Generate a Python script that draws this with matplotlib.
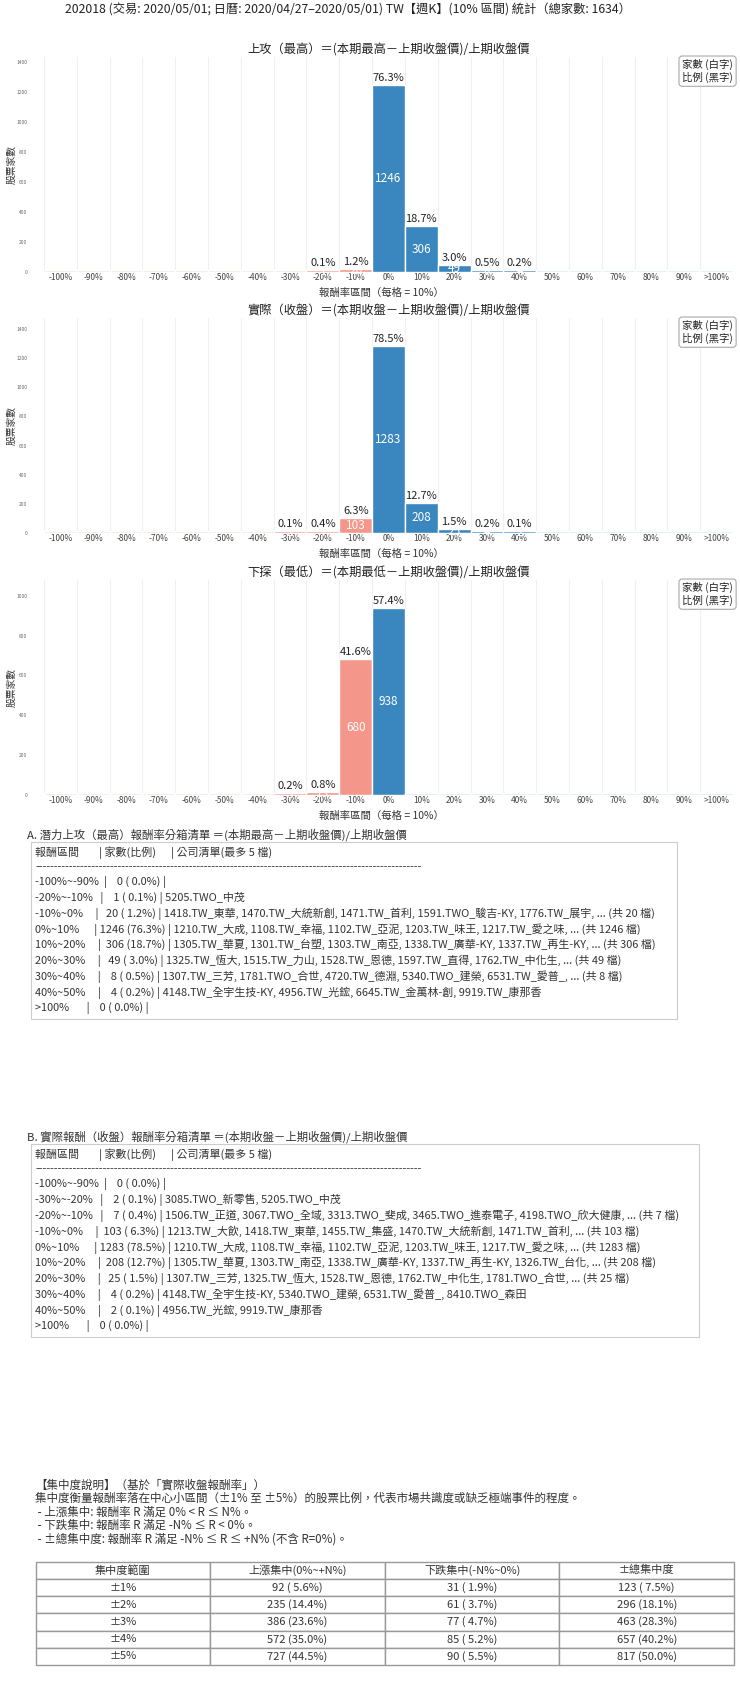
import matplotlib.pyplot as plt
import matplotlib.patches as mpatches
from matplotlib.ticker import MultipleLocator
import numpy as np

plt.rcParams['font.family'] = ['Noto Sans CJK TC', 'DejaVu Sans']

W, H = 740, 1691
TOTAL = 1634

# 分箱 (10% 區間)
bin_labels = ['-100%', '-90%', '-80%', '-70%', '-60%', '-50%', '-40%', '-30%', '-20%', '-10%',
              '0%', '10%', '20%', '30%', '40%', '50%', '60%', '70%', '80%', '90%', '>100%']
bin_ranges = ['-100%~-90%', '-90%~-80%', '-80%~-70%', '-70%~-60%', '-60%~-50%', '-50%~-40%',
              '-40%~-30%', '-30%~-20%', '-20%~-10%', '-10%~0%', '0%~10%', '10%~20%', '20%~30%',
              '30%~40%', '40%~50%', '50%~60%', '60%~70%', '70%~80%', '80%~90%', '90%~100%', '>100%']

counts_high = [0, 0, 0, 0, 0, 0, 0, 0, 1, 20, 1246, 306, 49, 8, 4, 0, 0, 0, 0, 0, 0]
counts_close = [0, 0, 0, 0, 0, 0, 0, 2, 7, 103, 1283, 208, 25, 4, 2, 0, 0, 0, 0, 0, 0]
counts_low = [0, 0, 0, 0, 0, 0, 0, 3, 13, 680, 938, 0, 0, 0, 0, 0, 0, 0, 0, 0, 0]

names_high = {
    '-20%~-10%': '5205.TWO_中茂',
    '-10%~0%': '1418.TW_東華, 1470.TW_大統新創, 1471.TW_首利, 1591.TWO_駿吉-KY, 1776.TW_展宇, ... (共 20 檔)',
    '0%~10%': '1210.TW_大成, 1108.TW_幸福, 1102.TW_亞泥, 1203.TW_味王, 1217.TW_愛之味, ... (共 1246 檔)',
    '10%~20%': '1305.TW_華夏, 1301.TW_台塑, 1303.TW_南亞, 1338.TW_廣華-KY, 1337.TW_再生-KY, ... (共 306 檔)',
    '20%~30%': '1325.TW_恆大, 1515.TW_力山, 1528.TW_恩德, 1597.TW_直得, 1762.TW_中化生, ... (共 49 檔)',
    '30%~40%': '1307.TW_三芳, 1781.TWO_合世, 4720.TW_德淵, 5340.TWO_建榮, 6531.TW_愛普_, ... (共 8 檔)',
    '40%~50%': '4148.TW_全宇生技-KY, 4956.TW_光鋐, 6645.TW_金萬林-創, 9919.TW_康那香',
}
names_close = {
    '-30%~-20%': '3085.TWO_新零售, 5205.TWO_中茂',
    '-20%~-10%': '1506.TW_正道, 3067.TWO_全域, 3313.TWO_斐成, 3465.TWO_進泰電子, 4198.TWO_欣大健康, ... (共 7 檔)',
    '-10%~0%': '1213.TW_大飲, 1418.TW_東華, 1455.TW_集盛, 1470.TW_大統新創, 1471.TW_首利, ... (共 103 檔)',
    '0%~10%': '1210.TW_大成, 1108.TW_幸福, 1102.TW_亞泥, 1203.TW_味王, 1217.TW_愛之味, ... (共 1283 檔)',
    '10%~20%': '1305.TW_華夏, 1303.TW_南亞, 1338.TW_廣華-KY, 1337.TW_再生-KY, 1326.TW_台化, ... (共 208 檔)',
    '20%~30%': '1307.TW_三芳, 1325.TW_恆大, 1528.TW_恩德, 1762.TW_中化生, 1781.TWO_合世, ... (共 25 檔)',
    '30%~40%': '4148.TW_全宇生技-KY, 5340.TWO_建榮, 6531.TW_愛普_, 8410.TWO_森田',
    '40%~50%': '4956.TW_光鋐, 9919.TW_康那香',
}

# 集中度表
conc_labels = ['±1%', '±2%', '±3%', '±4%', '±5%']
up_counts = [92, 235, 386, 572, 727]
down_counts = [31, 61, 77, 85, 90]
all_counts = [123, 296, 463, 657, 817]

NEG = '#f4968a'
POS = '#3a86bf'
NEG_EMPTY = '#fbe0dc'
POS_EMPTY = '#d5e7f4'


def rect(l, t, r, b):
    return [l / W, 1 - b / H, (r - l) / W, (b - t) / H]


def ftext(x, y, s, **kw):
    kw.setdefault('va', 'center')
    kw.setdefault('ha', 'left')
    fig.text(x / W, 1 - y / H, s, **kw)


def draw_hist(ax, title, counts):
    counts = np.asarray(counts)
    x = np.arange(len(counts))
    floor = counts.max() * 0.012
    heights = np.maximum(counts, floor)
    colors = []
    for i, c in enumerate(counts):
        neg = i < 10
        if c > 0:
            colors.append(NEG if neg else POS)
        else:
            colors.append(NEG_EMPTY if neg else POS_EMPTY)
    ax.bar(x, heights, width=1.0, color=colors, edgecolor='white', linewidth=1.0, zorder=2)
    for i, c in enumerate(counts):
        if c == 0:
            continue
        ax.annotate(f'{c / TOTAL * 100:.1f}%', (i, heights[i]), xytext=(0, 1.5),
                    textcoords='offset points', ha='center', va='bottom', fontsize=8, color='#222')
        ax.text(i, c / 2, str(c), ha='center', va='center', color='white', fontsize=8.5, zorder=3)

    ax.set_xlim(-0.5, len(counts) - 0.5)
    ax.set_ylim(0, counts.max() * 1.15)
    ax.set_xticks(x)
    ax.set_xticklabels(bin_labels, fontsize=6, color='#444')
    ax.set_xticks(np.arange(-0.5, len(counts)), minor=True)
    ax.grid(which='minor', axis='x', color='#f0f0f0', lw=0.8)
    ax.set_axisbelow(True)
    ax.yaxis.set_major_locator(MultipleLocator(200))
    ax.tick_params(axis='y', labelsize=3.5, length=0, pad=12, labelcolor='#666')
    ax.tick_params(axis='x', which='both', length=0, pad=1)
    for s in ax.spines.values():
        s.set_visible(False)
    ax.set_title(title, fontsize=8.8, pad=1, color='#222')
    ax.set_xlabel('報酬率區間（每格 = 10%）', fontsize=7.5, color='#333')
    ax.xaxis.set_label_coords(0.49, -0.072)
    ax.set_ylabel('股票家數', fontsize=7, color='#333')
    ax.yaxis.set_label_coords(-0.04, 0.5)
    ax.text(1.0, 0.99, '家數 (白字)\n比例 (黑字)', transform=ax.transAxes, ha='right', va='top',
            fontsize=7.5, linespacing=1.2, color='#222',
            bbox=dict(boxstyle='round,pad=0.3', fc='white', ec='#aaaaaa', lw=0.8))


def list_lines(counts, names):
    lines = ['報酬區間        | 家數(比例)      | 公司清單(最多 5 檔)', '-' * 103]
    for i, c in enumerate(counts):
        if c == 0 and i not in (0, len(counts) - 1):
            continue
        rng = bin_ranges[i]
        pad = ' ' * max(1, 12 - len(rng))
        row = f'{rng}{pad}| {c:>4} ({c / TOTAL * 100:4.1f}%) |'
        if rng in names:
            row += ' ' + names[rng]
        lines.append(row)
    return lines


fig = plt.figure(figsize=(W / 100, H / 100), dpi=100)

ftext(348, 10, '202018 (交易: 2020/05/01; 日曆: 2020/04/27–2020/05/01) TW【週K】(10% 區間) 統計（總家數: 1634）',
      ha='center', fontsize=8.8, color='#222')

charts = [
    ('上攻（最高）＝(本期最高－上期收盤價)/上期收盤價', counts_high, 272),
    ('實際（收盤）＝(本期收盤－上期收盤價)/上期收盤價', counts_close, 533),
    ('下探（最低）＝(本期最低－上期收盤價)/上期收盤價', counts_low, 795),
]
for title, counts, bottom in charts:
    ax = fig.add_axes(rect(44, bottom - 215, 733, bottom))
    draw_hist(ax, title, counts)

# A / B 清單
boxes = [
    ('A. 潛力上攻（最高）報酬率分箱清單 ＝(本期最高－上期收盤價)/上期收盤價', counts_high, names_high,
     835, 841.7, 676.7, 1019),
    ('B. 實際報酬（收盤）報酬率分箱清單 ＝(本期收盤－上期收盤價)/上期收盤價', counts_close, names_close,
     1136.7, 1144, 699, 1337),
]
for heading, counts, names, hy, top, right, bottom in boxes:
    ftext(27.3, hy, heading, fontsize=8.2, color='#333')
    fig.add_artist(mpatches.Rectangle((30.7 / W, 1 - bottom / H), (right - 30.7) / W, (bottom - top) / H,
                                      transform=fig.transFigure, fill=False, ec='#cccccc', lw=0.8))
    lines = list_lines(counts, names)
    ys = [top + 11, top + 25.3] + [top + 40.3 + 15.8 * k for k in range(len(lines) - 2)]
    for y, s in zip(ys, lines):
        ftext(35, y, s, fontsize=7.9, color='#333')

notes = [
    '【集中度說明】（基於「實際收盤報酬率」）',
    '集中度衡量報酬率落在中心小區間（±1% 至 ±5%）的股票比例，代表市場共識度或缺乏極端事件的程度。',
    ' - 上漲集中: 報酬率 R 滿足 0% < R ≤ N%。',
    ' - 下跌集中: 報酬率 R 滿足 -N% ≤ R < 0%。',
    ' - ±總集中度: 報酬率 R 滿足 -N% ≤ R ≤ +N% (不含 R=0%)。',
]
for k, s in enumerate(notes):
    ftext(35, 1485 + 13.6 * k, s, fontsize=8.3, color='#333')

tax = fig.add_axes(rect(35.6, 1561.7, 734, 1665))
tax.axis('off')
cell_text = []
for lab, u, d, a in zip(conc_labels, up_counts, down_counts, all_counts):
    cell_text.append([lab, f'{u} ({u / TOTAL * 100:4.1f}%)', f'{d} ({d / TOTAL * 100:4.1f}%)',
                      f'{a} ({a / TOTAL * 100:4.1f}%)'])
tbl = tax.table(cellText=cell_text, colLabels=['集中度範圍', '上漲集中(0%~+N%)', '下跌集中(-N%~0%)', '±總集中度'],
                cellLoc='center', bbox=[0, 0, 1, 1])
tbl.auto_set_font_size(False)
tbl.set_fontsize(8)
for cell in tbl.get_celld().values():
    cell.set_edgecolor('#999999')
    cell.set_linewidth(1.0)
    cell.get_text().set_color('#333')

fig.savefig('out.png', dpi=100)
